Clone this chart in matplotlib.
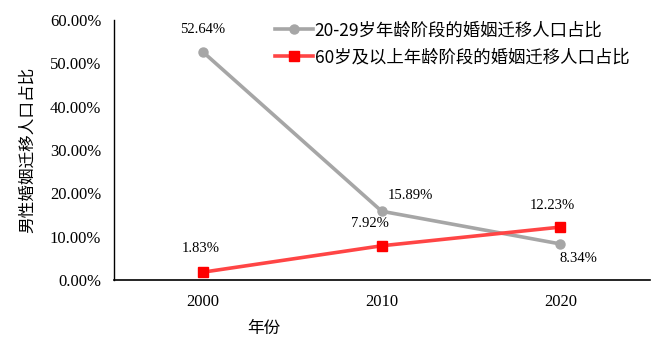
import matplotlib
matplotlib.use("Agg")
import matplotlib.pyplot as plt

plt.rcParams["font.family"] = ["Liberation Serif", "Noto Sans CJK SC"]
plt.rcParams["axes.unicode_minus"] = False

years = ["2000", "2010", "2020"]
young = [52.64, 15.89, 8.34]   # 20-29岁
old = [1.83, 7.92, 12.23]      # 60岁及以上
young_name = "20-29岁年龄阶段的婚姻迁移人口占比"
old_name = "60岁及以上年龄阶段的婚姻迁移人口占比"

cjk = ["Noto Sans CJK SC", "DejaVu Sans"]

fig = plt.figure(figsize=(6.65, 3.6), dpi=100)
ax = fig.add_axes([0.171, 0.222, 0.806, 0.722])

x = list(range(len(years)))
ax.plot(x, young, color="#A6A6A6", lw=2.6, marker="o", ms=6.5,
        label=young_name)
ax.plot(x, old, color="#FF4545", lw=2.6, marker="s", ms=7,
        markerfacecolor="#FF0000", markeredgecolor="#FF0000",
        label=old_name)

# 数据标签 (像素偏移)
young_off = [(0, 23), (29, 16), (18, -15)]
old_off = [(-2, 24), (-12, 22), (-8, 22)]
for i in x:
    ax.annotate(f"{young[i]:.2f}%", (i, young[i]), xytext=young_off[i],
                textcoords="offset pixels", ha="center", va="center",
                fontsize=10.5)
    ax.annotate(f"{old[i]:.2f}%", (i, old[i]), xytext=old_off[i],
                textcoords="offset pixels", ha="center", va="center",
                fontsize=10.5)

ax.set_xlim(-0.5, 2.5)
ax.set_ylim(0, 60)
ax.set_xticks(x)
ax.set_xticklabels(years, fontsize=12)
ax.set_yticks(range(0, 61, 10))
ax.set_yticklabels([f"{v:.2f}%" for v in range(0, 61, 10)], fontsize=12)
ax.tick_params(length=0)
ax.tick_params(axis="y", pad=9)
ax.tick_params(axis="x", pad=10)
for s in ["top", "right"]:
    ax.spines[s].set_visible(False)
ax.spines["left"].set_linewidth(1.0)
ax.spines["bottom"].set_linewidth(1.2)

ax.set_ylabel("男性婚姻迁移人口占比", fontsize=12, family=cjk)
ax.yaxis.set_label_coords(-0.145, 0.5)
ax.set_xlabel("年份", fontsize=12, family=cjk)
ax.xaxis.set_label_coords(0.28, -0.155)

ax.legend(loc="upper left", bbox_to_anchor=(0.40, 0.965),
          bbox_transform=fig.transFigure, frameon=False,
          prop={"family": cjk, "size": 12.5}, handlelength=2.2,
          handletextpad=0.1, labelspacing=0.5, borderpad=0)

fig.savefig("out.png", dpi=100)
